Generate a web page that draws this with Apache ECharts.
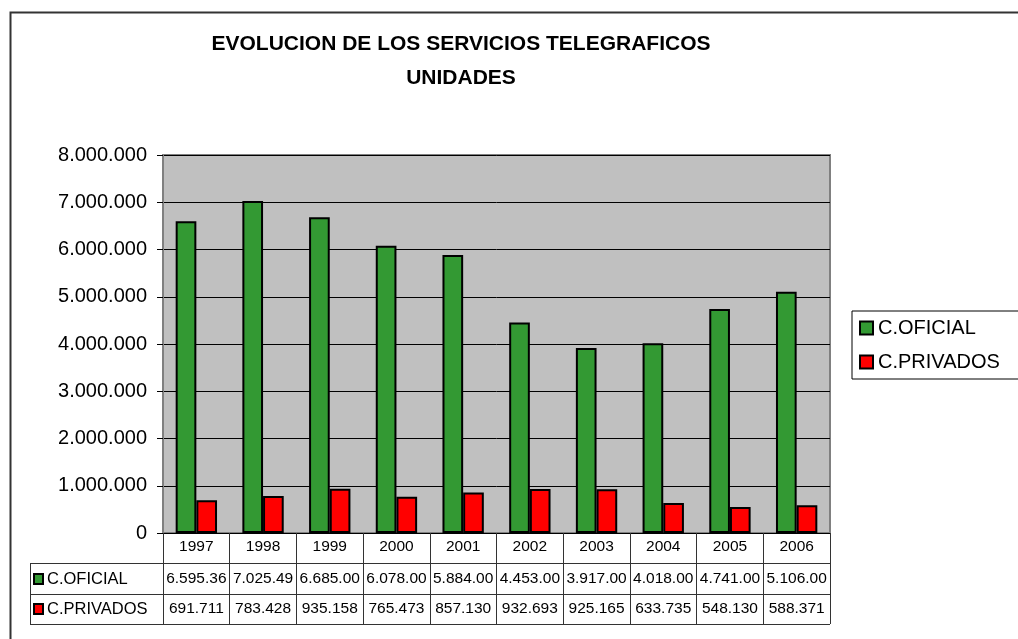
<!DOCTYPE html>
<html>
<head>
<meta charset="utf-8">
<script src="https://cdn.jsdelivr.net/npm/echarts@6/dist/echarts.min.js"></script>
<style>
  html, body { margin: 0; padding: 0; background: #fff; }
  #chart { width: 1018px; height: 639px; }
</style>
</head>
<body>
<div id="chart"></div>
<script>
// datos
var years = ['1997', '1998', '1999', '2000', '2001', '2002', '2003', '2004', '2005', '2006']
var oficial = [6595360, 7025490, 6685000, 6078000, 5884000, 4453000, 3917000, 4018000, 4741000, 5106000]
var privados = [691711, 783428, 935158, 765473, 857130, 932693, 925165, 633735, 548130, 588371]
var seriesNames = ['C.OFICIAL', 'C.PRIVADOS']
var seriesColors = ['#339933', '#FF0000']

// 8.000.000 style
function fmt (v) {
  return String(v).replace(/\B(?=(\d{3})+(?!\d))/g, '.')
}

var chart = echarts.init(document.getElementById('chart'))
var font = 'Liberation Sans, Arial, sans-serif'
var lineColor = '#333'

var option = {
  backgroundColor: '#fff',
  animation: false,
  title: {
    text: 'EVOLUCION DE LOS SERVICIOS TELEGRAFICOS\nUNIDADES',
    left: 461,
    top: 27,
    padding: 0,
    textAlign: 'center',
    textStyle: {
      fontFamily: font,
      fontSize: 21,
      fontWeight: 'bold',
      color: '#000',
      lineHeight: 34
    }
  },
  legend: {
    orient: 'vertical',
    left: 852,
    top: 311,
    padding: [7, 40, 7, 7],
    itemGap: 14,
    itemWidth: 13,
    itemHeight: 13,
    icon: 'rect',
    borderColor: '#000',
    borderWidth: 1,
    data: seriesNames,
    textStyle: { fontFamily: font, fontSize: 20, color: '#000' }
  },
  grid: {
    left: 163,
    right: 188,
    top: 155,
    bottom: 106,
    show: true,
    backgroundColor: '#C0C0C0',
    borderColor: '#808080',
    borderWidth: 2
  },
  xAxis: [
    {
      type: 'category',
      data: years,
      position: 'bottom',
      axisLine: { lineStyle: { color: '#000', width: 1 } },
      axisTick: { show: true, length: 91, interval: 0, lineStyle: { color: lineColor } },
      axisLabel: {
        interval: 0,
        margin: 14,
        verticalAlign: 'middle',
        fontFamily: font,
        fontSize: 15.5,
        color: '#000'
      }
    },
    {
      type: 'category',
      data: years,
      position: 'bottom',
      axisLine: { show: false },
      axisTick: { show: false },
      axisLabel: {
        interval: 0,
        margin: 46,
        verticalAlign: 'middle',
        fontFamily: font,
        fontSize: 15.5,
        color: '#000',
        // la tabla de Excel corta los numeros largos
        formatter: function (v, i) { return fmt(oficial[i]).slice(0, 8) }
      }
    },
    {
      type: 'category',
      data: years,
      position: 'bottom',
      axisLine: { show: false },
      axisTick: { show: false },
      axisLabel: {
        interval: 0,
        margin: 76,
        verticalAlign: 'middle',
        fontFamily: font,
        fontSize: 15.5,
        color: '#000',
        formatter: function (v, i) { return fmt(privados[i]).slice(0, 8) }
      }
    }
  ],
  yAxis: {
    type: 'value',
    min: 0,
    max: 8000000,
    interval: 1000000,
    axisLine: { show: true, lineStyle: { color: '#808080', width: 2 } },
    axisTick: { show: true, length: 6, lineStyle: { color: '#000' } },
    axisLabel: {
      margin: 16,
      fontFamily: font,
      fontSize: 20,
      color: '#000',
      formatter: function (v) { return fmt(v) }
    },
    splitLine: { lineStyle: { color: '#000', width: 1 } }
  },
  series: [
    {
      name: seriesNames[0],
      type: 'bar',
      xAxisIndex: 0,
      barGap: '0%',
      barCategoryGap: '38%',
      itemStyle: { color: seriesColors[0], borderColor: '#000', borderWidth: 2 },
      data: oficial
    },
    {
      name: seriesNames[1],
      type: 'bar',
      xAxisIndex: 0,
      barGap: '0%',
      barCategoryGap: '38%',
      itemStyle: { color: seriesColors[1], borderColor: '#000', borderWidth: 2 },
      data: privados
    }
  ],
  graphic: [
    // marco exterior
    { type: 'rect', left: 8, top: 10, shape: { width: 1040, height: 660 }, style: { fill: null, stroke: '#333', lineWidth: 2 }, silent: true },
    // lineas de la tabla
    { type: 'line', shape: { x1: 30, y1: 563.5, x2: 830, y2: 563.5 }, style: { stroke: lineColor, lineWidth: 1 } },
    { type: 'line', shape: { x1: 30, y1: 594.5, x2: 830, y2: 594.5 }, style: { stroke: lineColor, lineWidth: 1 } },
    { type: 'line', shape: { x1: 30, y1: 624.5, x2: 830, y2: 624.5 }, style: { stroke: lineColor, lineWidth: 1 } },
    { type: 'line', shape: { x1: 30.5, y1: 563, x2: 30.5, y2: 625 }, style: { stroke: lineColor, lineWidth: 1 } },
    // claves y nombres de fila
    { type: 'rect', shape: { x: 34, y: 574, width: 9, height: 10 }, style: { fill: seriesColors[0], stroke: '#000', lineWidth: 2 } },
    { type: 'text', x: 47, y: 579, style: { text: seriesNames[0], font: '16.5px ' + font, fill: '#000', verticalAlign: 'middle' } },
    { type: 'rect', shape: { x: 34, y: 604, width: 9, height: 10 }, style: { fill: seriesColors[1], stroke: '#000', lineWidth: 2 } },
    { type: 'text', x: 47, y: 609, style: { text: seriesNames[1], font: '16.5px ' + font, fill: '#000', verticalAlign: 'middle' } }
  ]
}

chart.setOption(option)
</script>
</body>
</html>
